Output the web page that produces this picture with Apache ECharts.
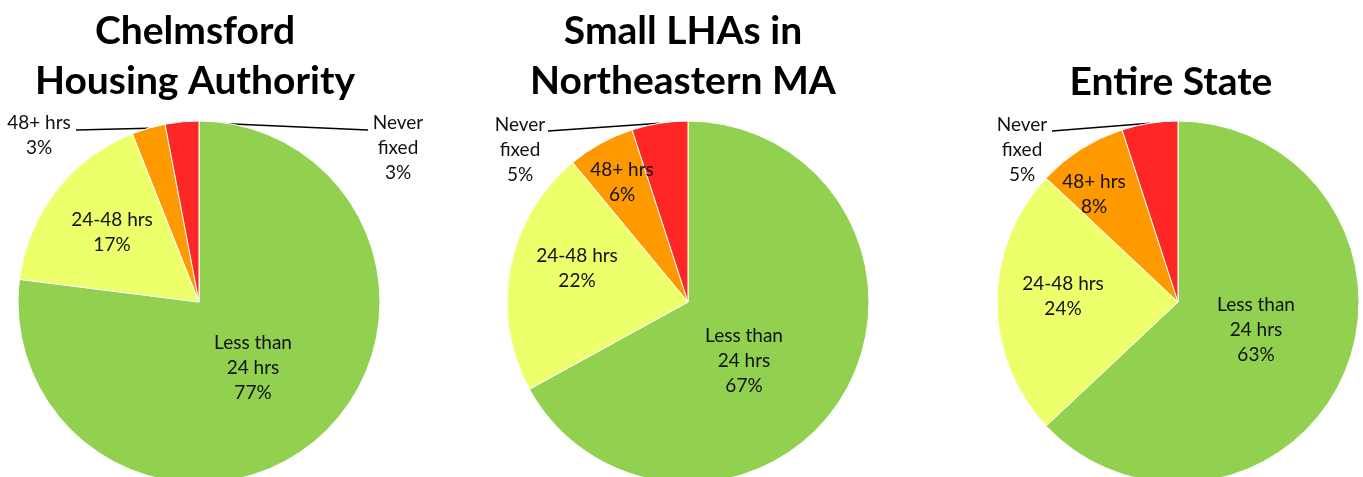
<!DOCTYPE html>
<html>
<head>
<meta charset="utf-8">
<script src="https://cdn.jsdelivr.net/npm/echarts@6/dist/echarts.min.js"></script>
<style>
  html, body { margin: 0; padding: 0; background: #fff; }
  #chart { width: 1363px; height: 477px; }
</style>
</head>
<body>
<div id="chart"></div>
<script>
// data
const categories = ['Less than\n24 hrs', '24-48 hrs', '48+ hrs', 'Never\nfixed']
const titles = ['Chelmsford\nHousing Authority', 'Small LHAs in\nNortheastern MA', 'Entire State']
const chelmsford = [77, 17, 3, 3]
const smallLHAs = [67, 22, 6, 5]
const entireState = [63, 24, 8, 5]

const colors = ['#92D050', '#EDFF6B', '#FF9900', '#FF2626']

// layout: pie centers and label spots (offsets from pie center)
const centers = [[199, 302], [688, 302], [1178, 302]]
const radius = 181
const labelSpots = [
  [[54, 66], [-87, -70], [-160, -167], [199, -154]],
  [[56, 59], [-111, -34], [-66, -120], [-168, -152]],
  [[78, 28], [-115, -6], [-84, -108], [-156, -152]]
]
// leader line end points for outside labels (offset from pie center)
const leaderEnds = [
  { 2: [-123, -172], 3: [169, -172] },
  { 3: [-140, -171] },
  { 3: [-126, -171] }
]

const fontFamily = 'Lato, "Open Sans", sans-serif'
const chart = echarts.init(document.getElementById('chart'))

function buildSeries (values, idx) {
  return {
    type: 'pie',
    center: centers[idx],
    radius: radius,
    startAngle: 90,
    clockwise: true,
    avoidLabelOverlap: false,
    animation: false,
    itemStyle: { borderColor: '#fff', borderWidth: 1 },
    label: {
      position: 'inside',
      color: '#111',
      fontFamily: fontFamily,
      fontSize: 19,
      lineHeight: 25,
      align: 'center',
      formatter: p => p.name + '\n' + p.value + '%'
    },
    labelLine: { show: false },
    labelLayout: params => {
      const spot = labelSpots[idx][params.dataIndex]
      const c = centers[idx]
      const res = {
        x: c[0] + spot[0],
        y: c[1] + spot[1],
        align: 'center',
        verticalAlign: 'middle'
      }
      const end = leaderEnds[idx][params.dataIndex]
      if (end && params.labelLinePoints) {
        const start = params.labelLinePoints[0]
        const e = [c[0] + end[0], c[1] + end[1]]
        res.labelLinePoints = [start, e, e]
      }
      return res
    },
    data: values.map((v, i) => {
      const item = { name: categories[i], value: v, itemStyle: { color: colors[i] } }
      if (leaderEnds[idx][i]) {
        item.label = { position: 'outside' }
        item.labelLine = { show: true, length: 5, length2: 5, lineStyle: { color: '#000', width: 1.5 } }
      }
      return item
    })
  }
}

chart.setOption({
  animation: false,
  title: titles.map((t, i) => ({
    text: t,
    left: [190, 678, 1166][i],
    top: i === 2 ? 52 : 1,
    textAlign: 'center',
    textStyle: {
      fontFamily: fontFamily,
      fontWeight: 'bold',
      fontSize: 39,
      lineHeight: 50,
      color: '#000'
    }
  })),
  series: [
    buildSeries(chelmsford, 0),
    buildSeries(smallLHAs, 1),
    buildSeries(entireState, 2)
  ]
})
</script>
</body>
</html>
